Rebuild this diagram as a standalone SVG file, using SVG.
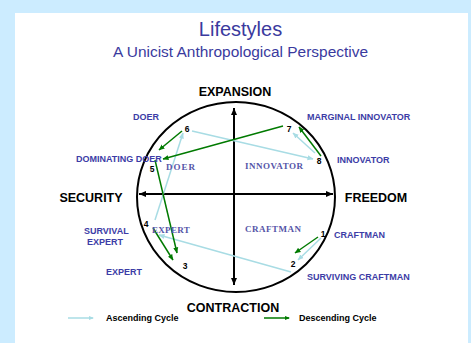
<svg xmlns="http://www.w3.org/2000/svg" width="471" height="343" viewBox="0 0 471 343">
<defs>
<marker id="ab" markerWidth="8" markerHeight="8" refX="7" refY="4" orient="auto" markerUnits="userSpaceOnUse"><path d="M0,1 L7,4 L0,7 Z" fill="#000"/></marker>
<marker id="ag" markerWidth="6" markerHeight="6" refX="5.5" refY="3" orient="auto" markerUnits="userSpaceOnUse"><path d="M0,0.5 L6,3 L0,5.5 Z" fill="#007A00"/></marker>
<marker id="al" markerWidth="6" markerHeight="6" refX="5.5" refY="3" orient="auto" markerUnits="userSpaceOnUse"><path d="M0,0.5 L6,3 L0,5.5 Z" fill="#A8DCE4"/></marker>
</defs>
<style>
.t{font-family:"Liberation Sans",Arial,sans-serif;fill:#3A3A9E}
.ax{font-family:"Liberation Sans",Arial,sans-serif;font-weight:bold;font-size:12.5px;fill:#000}
.lb{font-family:"Liberation Sans",Arial,sans-serif;font-weight:bold;font-size:9px;fill:#3C3CA6}
.sl{font-family:"Liberation Serif","Times New Roman",serif;font-weight:bold;font-size:9px;fill:#5555A8}
.n{font-family:"Liberation Sans",Arial,sans-serif;font-weight:bold;font-size:8.5px;fill:#000}
.lg{font-family:"Liberation Sans",Arial,sans-serif;font-weight:bold;font-size:9px;fill:#000}
.asc{stroke:#A8DCE4;stroke-width:1.5;fill:none;marker-end:url(#al)}
.dsc{stroke:#007A00;stroke-width:1.5;fill:none;marker-end:url(#ag)}
</style>
<rect x="0" y="0" width="471" height="343" fill="#CCECFF"/>
<rect x="15" y="13" width="453" height="330" fill="#fff"/>
<g id="title">
<text class="t" x="240.5" y="36" text-anchor="middle" font-size="20">Lifestyles</text>
<text class="t" x="240.5" y="57" text-anchor="middle" font-size="14" textLength="255" lengthAdjust="spacingAndGlyphs">A Unicist Anthropological Perspective</text>
</g>
<g id="frame">
<ellipse cx="236" cy="197" rx="99" ry="95" fill="none" stroke="#000" stroke-width="2"/>
<line x1="234" y1="285" x2="234" y2="108" stroke="#000" stroke-width="2" marker-end="url(#ab)"/>
<line x1="234" y1="108" x2="234" y2="285" stroke="#000" stroke-width="2" marker-end="url(#ab)"/>
<line x1="234" y1="194" x2="139" y2="194" stroke="#000" stroke-width="2" marker-end="url(#ab)"/>
<line x1="234" y1="194" x2="333" y2="194" stroke="#000" stroke-width="2" marker-end="url(#ab)"/>
</g>
<g id="axis-labels">
<text class="ax" x="235" y="96" text-anchor="middle">EXPANSION</text>
<text class="ax" x="91" y="202" text-anchor="middle">SECURITY</text>
<text class="ax" x="376" y="202" text-anchor="middle">FREEDOM</text>
<text class="ax" x="233" y="312" text-anchor="middle">CONTRACTION</text>
</g>
<g id="connectors">
<line class="asc" x1="321" y1="238" x2="298" y2="260"/>
<line class="asc" x1="291" y1="272" x2="159" y2="235"/>
<line class="asc" x1="155" y1="220" x2="183" y2="133"/>
<line class="asc" x1="192" y1="131" x2="313" y2="159"/>
<line class="asc" x1="315" y1="153" x2="293" y2="133"/>
<line class="dsc" x1="321" y1="156" x2="299" y2="127"/>
<line class="dsc" x1="283" y1="126" x2="163" y2="159"/>
<line class="dsc" x1="182" y1="131" x2="159" y2="150"/>
<line class="dsc" x1="155" y1="160" x2="177" y2="253"/>
<line class="dsc" x1="153" y1="228" x2="173" y2="260"/>
<line class="dsc" x1="318" y1="237" x2="295" y2="253"/>
</g>
<g id="numbers">
<text class="n" x="323" y="237" text-anchor="middle">1</text>
<text class="n" x="293" y="267" text-anchor="middle">2</text>
<text class="n" x="185" y="269" text-anchor="middle">3</text>
<text class="n" x="146" y="227" text-anchor="middle">4</text>
<text class="n" x="152" y="171.5" text-anchor="middle">5</text>
<text class="n" x="187" y="132" text-anchor="middle">6</text>
<text class="n" x="289" y="132" text-anchor="middle">7</text>
<text class="n" x="319" y="164" text-anchor="middle">8</text>
</g>
<g id="node-doer"><text class="lb" x="133" y="119.5">DOER</text></g>
<g id="node-dominating-doer"><text class="lb" x="76" y="162">DOMINATING DOER</text></g>
<g id="node-marginal-innovator"><text class="lb" x="307" y="119.5">MARGINAL INNOVATOR</text></g>
<g id="node-innovator"><text class="lb" x="337" y="162.5">INNOVATOR</text></g>
<g id="node-craftman"><text class="lb" x="334" y="237.5">CRAFTMAN</text></g>
<g id="node-surviving-craftman"><text class="lb" x="307" y="279.5">SURVIVING CRAFTMAN</text></g>
<g id="node-survival-expert"><text class="lb" x="84" y="233.5">SURVIVAL</text><text class="lb" x="87" y="244.5">EXPERT</text></g>
<g id="node-expert"><text class="lb" x="106" y="274.5">EXPERT</text></g>
<g id="quadrants">
<text class="sl" x="166" y="170" letter-spacing="1">DOER</text>
<text class="sl" x="245" y="169" letter-spacing="0.5">INNOVATOR</text>
<text class="sl" x="152" y="233" letter-spacing="0.3">EXPERT</text>
<text class="sl" x="245" y="232" letter-spacing="0.5">CRAFTMAN</text>
</g>
<g id="legend">
<line x1="68" y1="318" x2="93" y2="318" stroke="#A8DCE4" stroke-width="1.5"/>
<path d="M89,316 L94,318 L89,320 Z" fill="#A8DCE4"/>
<text class="lg" x="106" y="321">Ascending Cycle</text>
<line x1="264" y1="318" x2="289" y2="318" stroke="#007A00" stroke-width="1.5"/>
<path d="M285,316 L290,318 L285,320 Z" fill="#007A00"/>
<text class="lg" x="299" y="321">Descending Cycle</text>
</g>
</svg>
